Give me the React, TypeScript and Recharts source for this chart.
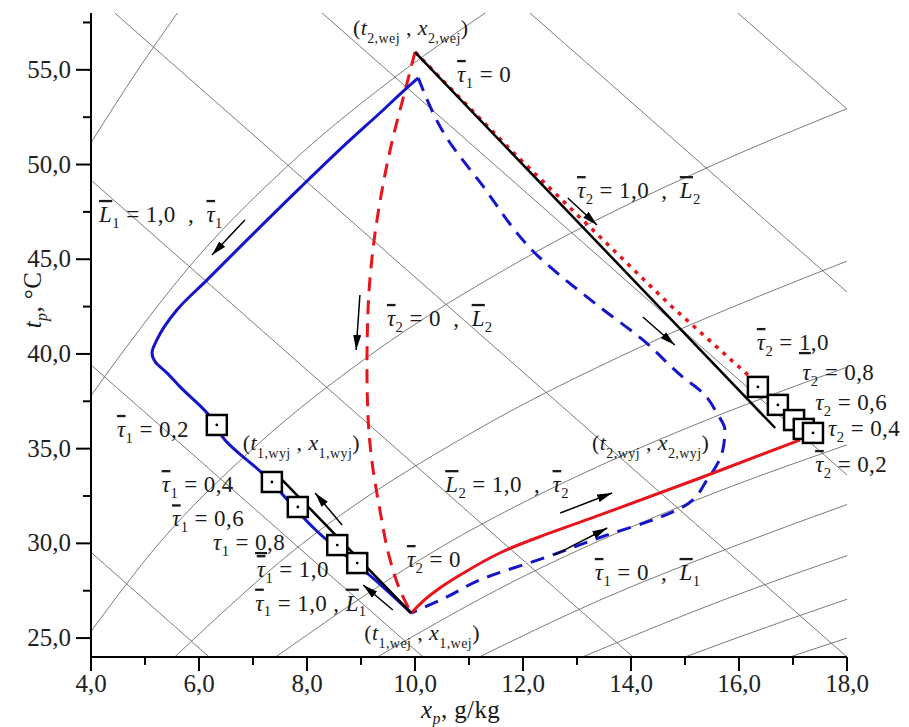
import React from 'react';
import {ComposedChart, Line, Scatter, XAxis, YAxis, ReferenceLine, Label} from 'recharts';

type P = [number, number];

// x in g/kg, t in °C
const blueSolid: P[] = [
  [10.06, 54.57], [9.81, 53.94], [9.35, 52.72], [8.8, 51.3], [7.87, 48.77],
  [6.89, 46.02], [6.15, 43.91], [5.59, 42.32], [5.22, 40.74], [5.13, 40.05],
  [5.19, 39.58], [5.41, 38.99], [5.65, 38.26], [6.15, 36.88], [6.48, 35.46],
  [7.17, 33.71], [8.2, 30.6], [9.26, 28.07], [9.93, 26.32],
];
const blueDashed: P[] = [
  [10.06, 54.57], [10.59, 51.4], [11.2, 49.08], [12.26, 45.22], [13.37, 42.59],
  [14.22, 40.74], [14.96, 38.78], [15.33, 37.94], [15.59, 36.88], [15.74, 35.99],
  [15.7, 34.93], [15.41, 33.35], [14.96, 31.92], [14.3, 31.13], [13.67, 30.55],
  [12.44, 29.28], [11.2, 28.07], [10.59, 27.17], [9.93, 26.32],
];
const redDashed: P[] = [
  [10.0, 55.94], [9.81, 53.83], [9.59, 51.4], [9.39, 48.66], [9.22, 45.49],
  [9.13, 42.32], [9.11, 39.31], [9.13, 36.67], [9.2, 34.4], [9.35, 31.76],
  [9.54, 29.12], [9.72, 27.54], [9.93, 26.32],
];
const redSolid: P[] = [
  [9.93, 26.32], [10.13, 26.9], [10.46, 27.64], [10.93, 28.49], [11.57, 29.49],
  [12.5, 30.55], [13.43, 31.5], [15.28, 33.45], [17.13, 35.46],
];
const redDotted: P[] = [[10.0, 55.94], [11.81, 50.66], [14.72, 42.59], [16.33, 38.47]];
const blackUpper: P[] = [[10.0, 55.94], [16.67, 36.09]];
const blackLower: P[] = [[7.54, 33.35], [9.93, 26.32]];

const tau1Marks: P[] = [[6.33, 36.25], [7.35, 33.24], [7.83, 31.92], [8.56, 29.91], [8.93, 28.96]];
const tau2Marks: P[] = [[16.35, 38.26], [16.72, 37.31], [17.02, 36.51], [17.2, 36.04], [17.37, 35.83]];

// background: constant enthalpy lines and relative humidity curves
const enthalpyLines: P[][] = [
  [[4.0, 29.53], [6.19, 24]],
  [[4.0, 39.42], [10.15, 24]],
  [[4.0, 49.18], [14.04, 24]],
  [[4.44, 58], [18, 24]],
  [[8.28, 58], [18, 33.61]],
  [[12.13, 58], [18, 43.27]],
  [[15.98, 58], [18, 52.93]],
];
const humidityLines: P[][] = [
  [[4, 51.15], [4.87, 55], [5.6, 58]],
  [[4, 37.8], [4.56, 40], [5.94, 45], [7.67, 50], [9.81, 55], [11.3, 58]],
  [[4, 25.35], [5.26, 30], [7.0, 35], [9.2, 40], [12.0, 45], [15.54, 50], [18, 52.95]],
  [[5.55, 24], [7.92, 30], [11.15, 36], [13.9, 40], [17.2, 44], [18, 44.9]],
  [[7.42, 24], [10.6, 30], [12.97, 33.5], [14.96, 36], [18, 39.3]],
  [[9.3, 24], [11.83, 28], [14.96, 32], [18, 35.2]],
  [[11.19, 24], [13.42, 27], [16.05, 30], [18, 32.05]],
  [[13.1, 24], [15.7, 27], [18, 29.35]],
  [[15.0, 24], [15.95, 25], [18, 27.05]],
  [[16.94, 24], [18, 25.0]],
];

// arrows: tail x, tail t, head x, head t
const arrows: number[][] = [
  [6.85, 47.07, 6.24, 45.22],
  [8.98, 43.11, 8.91, 40.21],
  [12.83, 48.23, 13.37, 46.81],
  [14.22, 41.95, 14.81, 40.47],
  [12.69, 31.6, 13.65, 32.66],
  [12.59, 29.39, 13.56, 30.81],
  [8.65, 30.97, 8.15, 32.66],
  [9.59, 26.48, 9.04, 27.8],
];

// $ italic char, ! italic char with bar, # underlined char, _{} subscript, ~{} italic subscript
const notes = [
  {x: 8.85, y: 56.84, text: '($t_{2,wej} , $x_{2,wej})'},
  {x: 10.78, y: 54.36, text: '!τ_{1} = 0'},
  {x: 13.0, y: 48.23, text: '!τ_{2} = 1,0  ,  !L_{2}'},
  {x: 4.15, y: 46.97, text: '!L_{1} = 1,0  ,  !τ_{1}'},
  {x: 9.48, y: 41.48, text: '!τ_{2} = 0  ,  !L_{2}'},
  {x: 4.48, y: 35.62, text: '!τ_{1} = 0,2'},
  {x: 6.81, y: 34.93, text: '($t_{1,wyj} , $x_{1,wyj})'},
  {x: 5.31, y: 32.71, text: '!τ_{1} = 0,4'},
  {x: 5.5, y: 30.9, text: '!τ_{1} = 0,6'},
  {x: 6.26, y: 29.65, text: '$τ_{1} = #0,8'},
  {x: 7.07, y: 28.22, text: '!τ_{1} = 1,0'},
  {x: 7.04, y: 26.45, text: '!τ_{1} = 1,0 , !L_{1}'},
  {x: 9.06, y: 24.9, text: '($t_{1,wej} , $x_{1,wej})'},
  {x: 9.85, y: 28.75, text: '!τ_{2} = 0'},
  {x: 10.56, y: 32.71, text: '!L_{2} = 1,0  ,  !τ_{2}'},
  {x: 13.28, y: 34.93, text: '($t_{2,wyj} , $x_{2,wyj})'},
  {x: 13.33, y: 28.07, text: '!τ_{1} = 0  ,  !L_{1}'},
  {x: 16.33, y: 40.21, text: '!τ_{2} = #1,0'},
  {x: 17.17, y: 38.63, text: '$τ_{2} = 0,8'},
  {x: 17.41, y: 37.04, text: '$τ_{2} = 0,6'},
  {x: 17.65, y: 35.68, text: '$τ_{2} = 0,4'},
  {x: 17.41, y: 33.77, text: '!τ_{2} = 0,2'},
];

const xTicks = [4, 5, 6, 7, 8, 9, 10, 11, 12, 13, 14, 15, 16, 17, 18];
const yTicks = [25, 27.5, 30, 32.5, 35, 37.5, 40, 42.5, 45, 47.5, 50, 52.5, 55, 57.5];

const FONT = "'Liberation Serif', 'Times New Roman', 'DejaVu Serif', serif";
const BLUE = '#1414c8';
const RED = '#e8141c';
const GRID = '#5a5a5a';

const pts = (a: P[]) => a.map(([x, y]) => ({x, y}));
const fmt = (v: number) => v.toFixed(1).replace('.', ',');

type Part = {t: string; it?: boolean; bar?: boolean; ul?: boolean; sub?: boolean};

function parse(s: string): Part[] {
  const parts: Part[] = [];
  let buf = '';
  const flush = () => {
    if (buf) parts.push({t: buf});
    buf = '';
  };
  for (let i = 0; i < s.length; i++) {
    const c = s[i];
    if (c === '$' || c === '!' || c === '#') {
      flush();
      parts.push({t: s[i + 1], it: c !== '#', bar: c === '!', ul: c === '#'});
      i++;
    } else if ((c === '_' || c === '~') && s[i + 1] === '{') {
      flush();
      const end = s.indexOf('}', i);
      parts.push({t: s.slice(i + 2, end), sub: true, it: c === '~'});
      i = end;
    } else {
      buf += c;
    }
  }
  flush();
  return parts;
}

const RichText = ({x, y, src, size = 23, anchor = 'start', rotate, subDrop = 0.27}: any) => {
  let shift = 0;
  return (
    <text
      x={x}
      y={y}
      fontSize={size}
      fill="#1a1a1a"
      textAnchor={anchor}
      xmlSpace="preserve"
      letterSpacing={0.4}
      style={{whiteSpace: 'pre', fontFamily: FONT}}
      transform={rotate ? `rotate(${rotate}, ${x}, ${y})` : undefined}>
      {parse(src).map((p, i) => {
        const target = p.sub ? size * subDrop : 0;
        const dy = target - shift;
        shift = target;
        const deco = p.bar ? 'overline' : p.ul ? 'underline' : undefined;
        return (
          <tspan
            key={i}
            dy={dy}
            fontSize={p.sub ? size * 0.64 : size}
            style={{fontStyle: p.it ? 'italic' : 'normal', fontFamily: FONT, textDecoration: deco}}>
            {p.t}
          </tspan>
        );
      })}
    </text>
  );
};

const XTick = ({x, y, payload}: any) => {
  const major = payload.value % 2 === 0;
  return (
    <g>
      <line x1={x} x2={x} y1={y} y2={y + (major ? 14 : 8)} stroke="#000" strokeWidth={2} />
      {major && (
        <text x={x} y={y + 35} textAnchor="middle" fontSize={25} fill="#222" style={{fontFamily: FONT}}>
          {fmt(payload.value)}
        </text>
      )}
    </g>
  );
};

const YTick = ({x, y, payload}: any) => {
  const major = payload.value % 5 === 0;
  return (
    <g>
      <line x1={x - (major ? 15 : 8)} x2={x} y1={y} y2={y} stroke="#000" strokeWidth={2} />
      {major && (
        <text x={x - 20} y={y + 8} textAnchor="end" fontSize={25} fill="#222" style={{fontFamily: FONT}}>
          {fmt(payload.value)}
        </text>
      )}
    </g>
  );
};

const Box = ({cx, cy}: any) => (
  <g>
    <rect x={cx - 10} y={cy - 10} width={20} height={20} fill="#fff" stroke="#000" strokeWidth={2.5} />
    <circle cx={cx} cy={cy} r={1.4} fill="#000" />
  </g>
);

const Note = ({cx, cy, payload}: any) => {
  const paren = payload.text.startsWith('(');
  return <RichText x={cx} y={cy} src={payload.text} size={paren ? 22 : 23} subDrop={paren ? 0.36 : 0.25} />;
};

const lineProps = {dot: false, activeDot: false, isAnimationActive: false} as const;

export default function App() {
  return (
    <div style={{width: 901, height: 719, position: 'relative', fontFamily: FONT}}>
      <svg width={0} height={0} style={{position: 'absolute'}}>
        <defs>
          <marker id="head" markerWidth={15} markerHeight={8} refX={15} refY={4} orient="auto" markerUnits="userSpaceOnUse">
            <path d="M0,0 L15,4 L0,8 Z" fill="#000" />
          </marker>
        </defs>
      </svg>
      <ComposedChart width={901} height={719} margin={{top: 5, right: 62, bottom: 10, left: 0}}>
        <XAxis
          dataKey="x"
          type="number"
          domain={[4, 18]}
          ticks={xTicks}
          interval={0}
          height={60}
          tickSize={0}
          tickMargin={0}
          tickLine={false}
          axisLine={{stroke: '#000', strokeWidth: 2}}
          tick={(p: any) => <XTick {...p} />}>
          <Label content={() => <RichText x={413} y={710} src="$x~{p}, g/kg" size={25} subDrop={0.25} />} />
        </XAxis>
        <XAxis xAxisId="top" orientation="top" type="number" domain={[4, 18]} height={0} tick={false} tickLine={false} axisLine={{stroke: '#000', strokeWidth: 2}} />
        <YAxis
          dataKey="y"
          type="number"
          domain={[24, 58]}
          ticks={yTicks}
          interval={0}
          width={83}
          tickSize={0}
          tickMargin={0}
          tickLine={false}
          axisLine={{stroke: '#000', strokeWidth: 2}}
          tick={(p: any) => <YTick {...p} />}>
          <Label content={() => <RichText x={33} y={292} src="$t~{p}, °C" size={25} anchor="middle" rotate={-90} subDrop={0.25} />} />
        </YAxis>
        <YAxis yAxisId="right" orientation="right" type="number" domain={[24, 58]} width={0} tick={false} tickLine={false} axisLine={{stroke: '#000', strokeWidth: 2}} />

        {enthalpyLines.map((l, i) => (
          <Line key={`h${i}`} data={pts(l)} dataKey="y" type="linear" stroke={GRID} strokeWidth={0.8} {...lineProps} />
        ))}
        {humidityLines.map((l, i) => (
          <Line key={`r${i}`} data={pts(l)} dataKey="y" type="monotone" stroke={GRID} strokeWidth={0.8} {...lineProps} />
        ))}

        <Line data={pts(blueDashed)} dataKey="y" type="monotoneY" stroke={BLUE} strokeWidth={3} strokeDasharray="14 9" {...lineProps} />
        <Line data={pts(redDashed)} dataKey="y" type="monotoneY" stroke={RED} strokeWidth={3} strokeDasharray="14 9" {...lineProps} />
        <Line data={pts(redDotted)} dataKey="y" type="linear" stroke={RED} strokeWidth={3.5} strokeDasharray="4 6" {...lineProps} />
        <Line data={pts(redSolid)} dataKey="y" type="monotone" stroke={RED} strokeWidth={3} {...lineProps} />
        <Line data={pts(blueSolid)} dataKey="y" type="monotoneY" stroke={BLUE} strokeWidth={3} {...lineProps} />
        <Line data={pts(blackUpper)} dataKey="y" type="linear" stroke="#000" strokeWidth={2.5} {...lineProps} />
        <Line data={pts(blackLower)} dataKey="y" type="linear" stroke="#000" strokeWidth={2.5} {...lineProps} />

        {arrows.map((a, i) => (
          <ReferenceLine
            key={`a${i}`}
            segment={[{x: a[0], y: a[1]}, {x: a[2], y: a[3]}]}
            stroke="#000"
            strokeWidth={1.5}
            markerEnd="url(#head)"
          />
        ))}

        <Scatter data={pts(tau1Marks)} dataKey="y" shape={Box} isAnimationActive={false} />
        <Scatter data={pts(tau2Marks)} dataKey="y" shape={Box} isAnimationActive={false} />
        <Scatter data={notes} dataKey="y" shape={Note} isAnimationActive={false} />
      </ComposedChart>
    </div>
  );
}
